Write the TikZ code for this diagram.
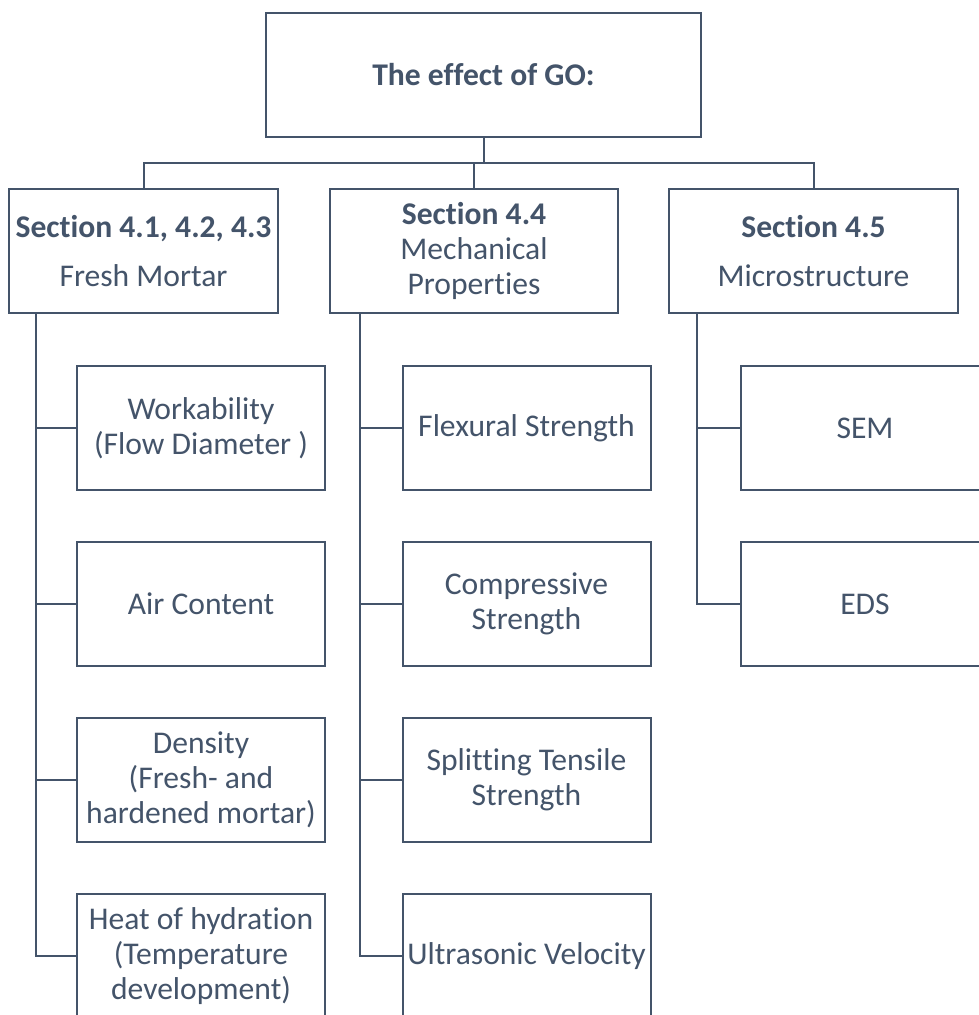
\documentclass[tikz,border=0pt]{standalone}
\usepackage{fontspec}
\setmainfont{Carlito}[Ligatures=NoCommon]
\definecolor{slate}{HTML}{44546A}
\begin{document}
\begin{tikzpicture}[x=1pt,y=-1pt,
  line width=2pt,
  every node/.style={font=\fontsize{31.6}{35}\selectfont, text=slate},
  box/.style={draw=slate, fill=white, rectangle, inner sep=0pt, align=center},
  topbox/.style={box, minimum width=435pt, minimum height=124pt},
  secbox/.style={box, minimum height=124pt},
  leaf/.style={box, minimum width=248pt, minimum height=124pt},
  link/.style={draw=slate, line width=2pt}]
\useasboundingbox (0,0) rectangle (979,1015);
\clip (0,0) rectangle (979,1015);
\fill[white] (0,0) rectangle (979,1015);

% root
\node[topbox] (top) at (483.5,75) {\textbf{The effect of GO:}};

% section headers
\node[secbox, minimum width=269pt] (s1) at (143.5,251)
  {\textbf{Section 4.1, 4.2, 4.3}\\[14pt]Fresh Mortar};
\node[secbox, minimum width=288pt] (s2) at (474,251)
  {\textbf{Section 4.4}\\Mechanical\\Properties};
\node[secbox, minimum width=289pt] (s3) at (813.5,251)
  {\textbf{Section 4.5}\\[14pt]Microstructure};

% fresh mortar tests
\node[leaf] (a1) at (201,428) {Workability\\(Flow Diameter )};
\node[leaf] (a2) at (201,604) {Air Content};
\node[leaf] (a3) at (201,780) {Density\\(Fresh- and\\hardened mortar)};
\node[leaf] (a4) at (201,956) {Heat of hydration\\(Temperature\\development)};

% mechanical tests
\node[leaf] (b1) at (526.5,428) {Flexural Strength};
\node[leaf] (b2) at (526.5,604) {Compressive\\Strength};
\node[leaf] (b3) at (526.5,780) {Splitting Tensile\\Strength};
\node[leaf] (b4) at (526.5,956) {Ultrasonic Velocity};

% microstructure tests
\node[leaf] (c1) at (865,428) {SEM};
\node[leaf] (c2) at (865,604) {EDS};

% root to sections
\coordinate (bar) at (0,163);
\draw[link] (top.south) -- (top.south |- bar);
\draw[link] (s1.north) |- (s3.north |- bar) -- (s3.north);
\draw[link] (s2.north) -- (s2.north |- bar);

% trunks along the left of each column
\coordinate (t1) at ([xshift=28pt]s1.south west);
\coordinate (t2) at ([xshift=31pt]s2.south west);
\coordinate (t3) at ([xshift=29pt]s3.south west);

\draw[link] (t1) |- (a4.west);
\foreach \i in {1,2,3} \draw[link] (a\i.west) -- (a\i.west -| t1);
\draw[link] (t2) |- (b4.west);
\foreach \i in {1,2,3} \draw[link] (b\i.west) -- (b\i.west -| t2);
\draw[link] (t3) |- (c2.west);
\draw[link] (c1.west) -- (c1.west -| t3);
\end{tikzpicture}
\end{document}
